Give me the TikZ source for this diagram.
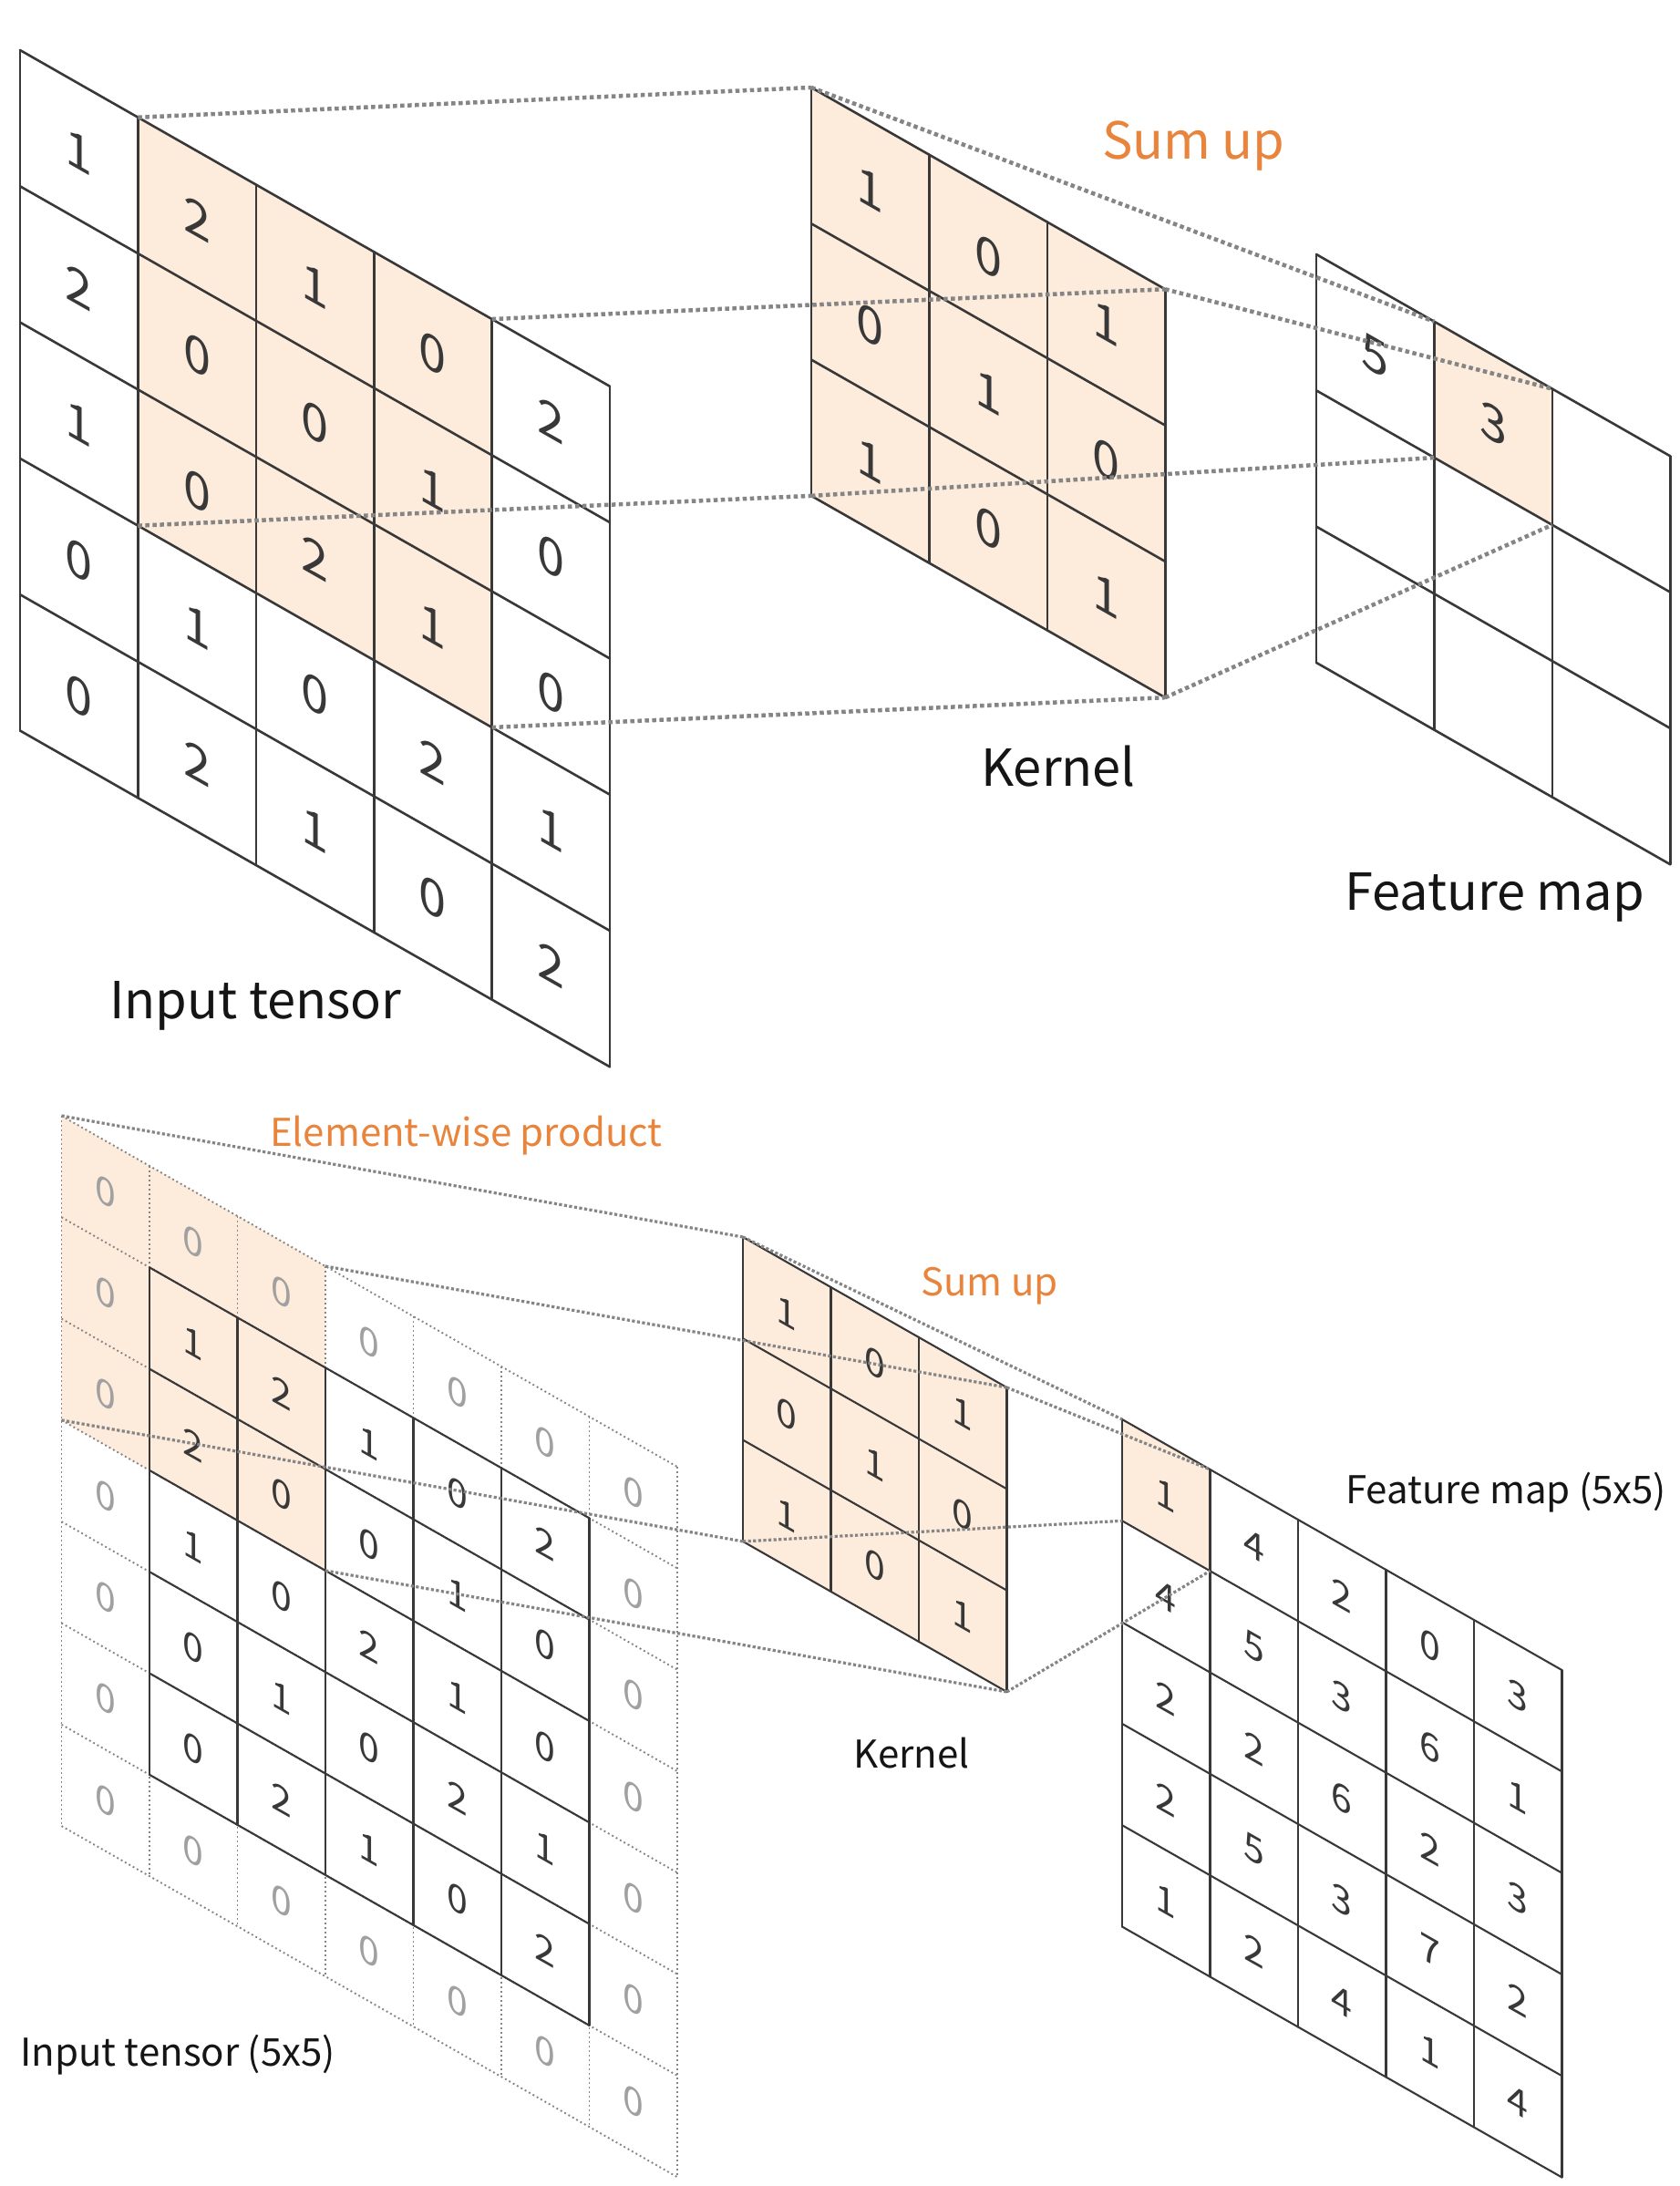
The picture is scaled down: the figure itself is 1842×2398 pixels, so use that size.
\documentclass[tikz,border=0pt]{standalone}
\usepackage{fontspec}
\newfontfamily\jp{Noto Sans CJK JP}
\definecolor{hl}{HTML}{FDEBDC}
\definecolor{ink}{HTML}{383838}
\definecolor{conn}{HTML}{858585}
\definecolor{orng}{HTML}{E8843C}
\definecolor{zero}{HTML}{A0A0A0}
\definecolor{txt}{HTML}{151515}
\begin{document}
\begin{tikzpicture}[x=1pt,y=-1pt,
  gl/.style={draw=ink, line width=2.6pt, line cap=round},
  gls/.style={draw=ink, line width=2.1pt, line cap=round},
  pad/.style={draw=conn, line width=1.9pt, dash pattern=on 1.9pt off 3.1pt},
  conA/.style={draw=conn, line width=4.5pt, dash pattern=on 4.5pt off 3.5pt},
  conB/.style={draw=conn, line width=3.2pt, dash pattern=on 3.2pt off 2.4pt},
  digA/.style={transform shape, inner sep=0pt, text=ink, font=\jp\fontsize{54}{54}\selectfont},
  digB/.style={transform shape, inner sep=0pt, text=ink, font=\jp\fontsize{41}{41}\selectfont},
  digZ/.style={digB, text=zero},
  labA/.style={inner sep=0pt, anchor=base west, text=txt, font=\jp\fontsize{56}{56}\selectfont},
  labB/.style={inner sep=0pt, anchor=base west, text=txt, font=\jp\fontsize{42}{42}\selectfont},
]
\fill[white] (0,0) rectangle (1842,2398);
\useasboundingbox (0,0) rectangle (1842,2398);

% ================= TOP PANEL =================
% input tensor
\begin{scope}[shift={(22pt,-55pt)}, x=129.4pt, y=-149.3pt, yslant=-0.57]
  \fill[hl] (1,0) -- (4,0) -- (4,3) -- (1,3) -- cycle;
  \foreach \k in {0,...,5} { \draw[gl] (0,\k) -- (5,\k); \draw[gl] (\k,0) -- (\k,5); }
  \foreach \r [count=\i from 0] in {{1,2,1,0,2},{2,0,0,1,0},{1,0,2,1,0},{0,1,0,2,1},{0,2,1,0,2}} {
    \foreach \v [count=\j from 0] in \r { \node[digA] (in-\i-\j) at (\j+0.5,\i+0.5) {\v}; }
  }
  \coordinate (inTL) at (1,0); \coordinate (inTR) at (4,0);
  \coordinate (inBL) at (1,3); \coordinate (inBR) at (4,3);
\end{scope}
% kernel
\begin{scope}[shift={(890pt,-96pt)}, x=129.4pt, y=-149.3pt, yslant=-0.57]
  \fill[hl] (0,0) -- (3,0) -- (3,3) -- (0,3) -- cycle;
  \foreach \k in {0,...,3} { \draw[gl] (0,\k) -- (3,\k); \draw[gl] (\k,0) -- (\k,3); }
  \foreach \r [count=\i from 0] in {{1,0,1},{0,1,0},{1,0,1}} {
    \foreach \v [count=\j from 0] in \r { \node[digA] (k-\i-\j) at (\j+0.5,\i+0.5) {\v}; }
  }
  \coordinate (kTL) at (0,0); \coordinate (kTR) at (3,0);
  \coordinate (kBL) at (0,3); \coordinate (kBR) at (3,3);
\end{scope}
% feature map
\begin{scope}[shift={(1444pt,-279pt)}, x=129.4pt, y=-149.3pt, yslant=-0.57]
  \fill[hl] (1,0) -- (2,0) -- (2,1) -- (1,1) -- cycle;
  \foreach \k in {0,...,3} { \draw[gl] (0,\k) -- (3,\k); \draw[gl] (\k,0) -- (\k,3); }
  \node[digA] (f-0-0) at (0.5,0.5) {5};
  \node[digA] (f-0-1) at (1.5,0.5) {3};
  \coordinate (fTL) at (1,0); \coordinate (fTR) at (2,0);
  \coordinate (fBL) at (1,1); \coordinate (fBR) at (2,1);
\end{scope}
% connectors
\draw[conA] (inTL) -- (kTL);
\draw[conA] (inTR) -- (kTR);
\draw[conA] (inBL) -- (kBL);
\draw[conA] (inBR) -- (kBR);
\draw[conA] (kTL) -- (fTL);
\draw[conA] (kTR) -- (fTR);
\draw[conA] (kBL) -- (fBL);
\draw[conA] (kBR) -- (fBR);
% labels
\node[labA, text=orng] (sumA) at (1209,174) {Sum up};
\node[labA] (kerA) at (1076,862) {Kernel};
\node[labA] (fmA) at (1475,998) {Feature map};
\node[labA] (inA) at (120,1117) {Input tensor};

% ================= BOTTOM PANEL =================
% padded input
\begin{scope}[shift={(67.5pt,-1224pt)}, x=96.5pt, y=-111.3pt, yslant=-0.57]
  \fill[hl] (0,0) -- (3,0) -- (3,3) -- (0,3) -- cycle;
  \foreach \k in {0,...,7} { \draw[pad] (0,\k) -- (7,\k); \draw[pad] (\k,0) -- (\k,7); }
  \foreach \k in {1,...,6} { \draw[gls] (1,\k) -- (6,\k); \draw[gls] (\k,1) -- (\k,6); }
  \foreach \r [count=\i from 0] in {{1,2,1,0,2},{2,0,0,1,0},{1,0,2,1,0},{0,1,0,2,1},{0,2,1,0,2}} {
    \foreach \v [count=\j from 0] in \r { \node[digB] (p-\i-\j) at (\j+1.5,\i+1.5) {\v}; }
  }
  \foreach \k in {0,...,6} {
    \node[digZ] (zt-\k) at (\k+0.5,0.5) {0};
    \node[digZ] (zb-\k) at (\k+0.5,6.5) {0};
  }
  \foreach \k in {1,...,5} {
    \node[digZ] (zl-\k) at (0.5,\k+0.5) {0};
    \node[digZ] (zr-\k) at (6.5,\k+0.5) {0};
  }
  \coordinate (pTL) at (0,0); \coordinate (pTR) at (3,0);
  \coordinate (pBL) at (0,3); \coordinate (pBR) at (3,3);
\end{scope}
% kernel
\begin{scope}[shift={(815pt,-1357pt)}, x=96.5pt, y=-111.3pt, yslant=-0.57]
  \fill[hl] (0,0) -- (3,0) -- (3,3) -- (0,3) -- cycle;
  \foreach \k in {0,...,3} { \draw[gls] (0,\k) -- (3,\k); \draw[gls] (\k,0) -- (\k,3); }
  \foreach \r [count=\i from 0] in {{1,0,1},{0,1,0},{1,0,1}} {
    \foreach \v [count=\j from 0] in \r { \node[digB] (q-\i-\j) at (\j+0.5,\i+0.5) {\v}; }
  }
  \coordinate (qTL) at (0,0); \coordinate (qTR) at (3,0);
  \coordinate (qBL) at (0,3); \coordinate (qBR) at (3,3);
\end{scope}
% feature map 5x5
\begin{scope}[shift={(1231pt,-1557pt)}, x=96.5pt, y=-111.3pt, yslant=-0.57]
  \fill[hl] (0,0) -- (1,0) -- (1,1) -- (0,1) -- cycle;
  \foreach \k in {0,...,5} { \draw[gls] (0,\k) -- (5,\k); \draw[gls] (\k,0) -- (\k,5); }
  \foreach \r [count=\i from 0] in {{1,4,2,0,3},{4,5,3,6,1},{2,2,6,2,3},{2,5,3,7,2},{1,2,4,1,4}} {
    \foreach \v [count=\j from 0] in \r { \node[digB] (g-\i-\j) at (\j+0.5,\i+0.5) {\v}; }
  }
  \coordinate (gTL) at (0,0); \coordinate (gTR) at (1,0);
  \coordinate (gBL) at (0,1); \coordinate (gBR) at (1,1);
\end{scope}
% connectors
\draw[conB] (pTL) -- (qTL);
\draw[conB] (pTR) -- (qTR);
\draw[conB] (pBL) -- (qBL);
\draw[conB] (pBR) -- (qBR);
\draw[conB] (qTL) -- (gTL);
\draw[conB] (qTR) -- (gTR);
\draw[conB] (qBL) -- (gBL);
\draw[conB] (qBR) -- (gBR);
% labels
\node[labB, text=orng] (ewB) at (296,1257) {Element-wise product};
\node[labB, text=orng] (sumB) at (1010,1421) {Sum up};
\node[labB] (kerB) at (936,1939) {Kernel};
\node[labB] (fmB) at (1476,1649) {Feature map (5x5)};
\node[labB] (inB) at (22,2266) {Input tensor (5x5)};
\end{tikzpicture}
\end{document}
